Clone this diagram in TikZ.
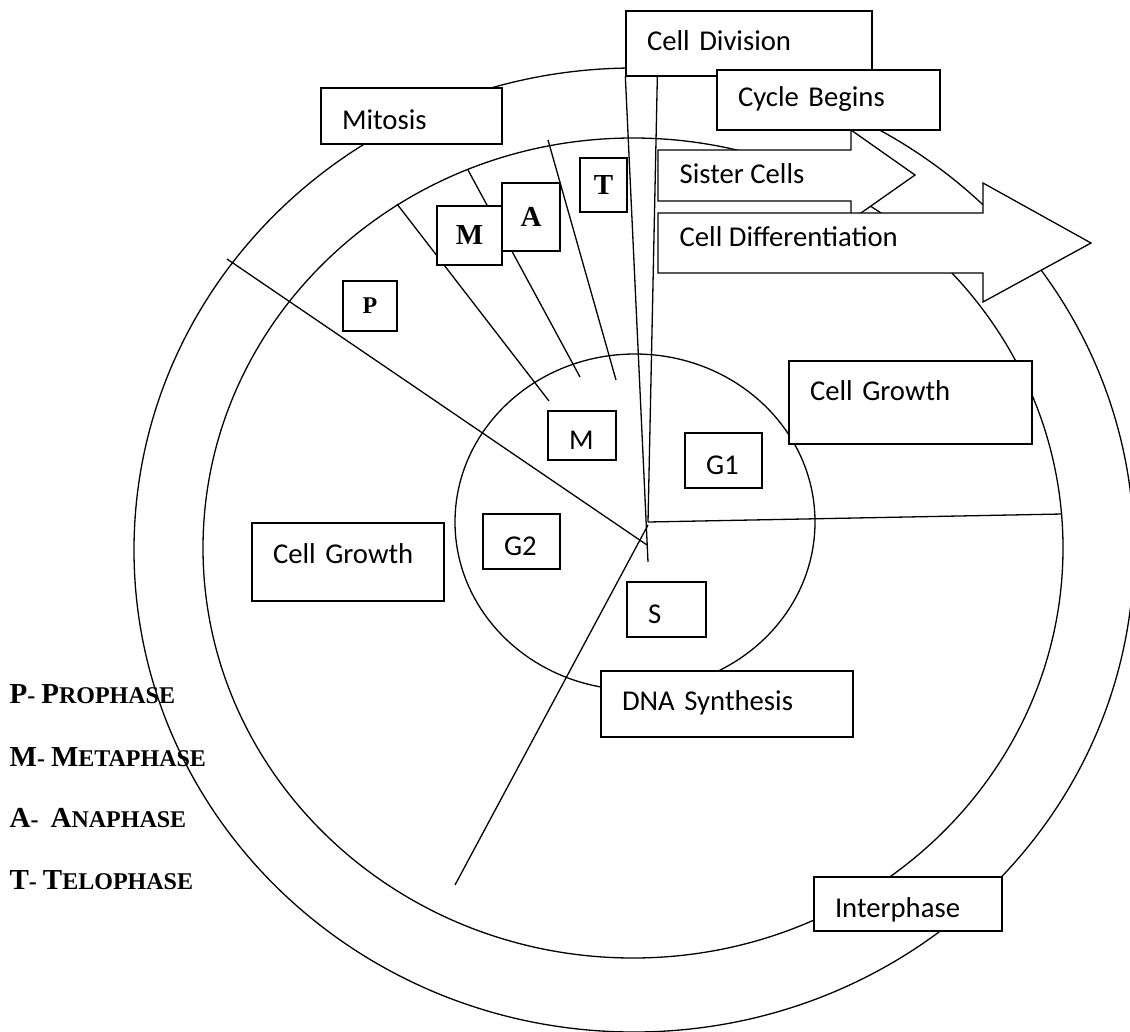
\documentclass[tikz,border=0pt]{standalone}
\usepackage{fontspec}
\setmainfont{Carlito}
\newfontfamily\algfont{Liberation Serif}
\usetikzlibrary{positioning}
\newcommand{\legcap}[1]{{\fontsize{29}{32}\selectfont #1}}
\tikzset{
  box/.style={draw, fill=white, line width=1.3pt, inner xsep=21pt, inner ysep=0pt,
    align=left, text height=19pt, text depth=6pt, font=\fontsize{28.7}{34}\selectfont},
  lowtext/.style={text height=27pt, text depth=0pt},
  phasebox/.style={draw, fill=white, line width=1.3pt, inner sep=0pt,
    font=\algfont\bfseries\fontsize{29}{32}\selectfont},
  legend/.style={anchor=west, inner sep=0pt, font=\algfont\bfseries\fontsize{24}{28}\selectfont},
  arrowtext/.style={anchor=west, inner sep=0pt, text height=19pt, text depth=6pt,
    font=\fontsize{28.7}{34}\selectfont},
  blockarrow/.style={draw, fill=white, line width=1.3pt}
}

\begin{document}
\begin{tikzpicture}[x=1pt, y=-1pt, line width=1.3pt]
  \useasboundingbox (0,0) rectangle (1130,1031);

  % the three rings
  \draw (634,550) ellipse [x radius=500, y radius=482];
  \draw (633,548) ellipse [x radius=430, y radius=410];
  \draw (635,522) ellipse [x radius=180, y radius=168];

  % points of the sectors
  \coordinate (hub) at (648,522);
  \coordinate (spindle) at (648,562);
  \coordinate (g1end) at (1062,514);
  \coordinate (proin) at (647,545);
  \coordinate (proout) at (227,259);
  \coordinate (sin) at (648,525);
  \coordinate (sout) at (455,885);
  \coordinate (pmout) at (397,204);
  \coordinate (pmin) at (549,401);
  \coordinate (maout) at (468,170);
  \coordinate (main) at (580,377);
  \coordinate (atout) at (548,140);
  \coordinate (atin) at (616,380);

  % boxes on the rings
  \node[box, minimum width=246pt, minimum height=65pt, text width=204pt] (celldiv) at (749,43.5) {Cell Division};
  \node[box, minimum width=223pt, minimum height=60pt, text width=181pt] (cycbeg) at (828.5,100) {Cycle Begins};

  \draw (celldiv.south west) -- (spindle);
  \draw ([xshift=32pt]celldiv.south west) -- (hub);
  \draw (hub) -- (g1end);
  \draw (proin) -- (proout);
  \draw (sin) -- (sout);
  \draw (pmout) -- (pmin);
  \draw (maout) -- (main);
  \draw (atout) -- (atin);

  \node[box, lowtext, minimum width=181pt, minimum height=56pt, text width=139pt] (mitosis) at (411.5,116) {Mitosis};
  \node[box, minimum width=192pt, minimum height=78pt, text width=150pt, text depth=16.5pt] (growthl) at (348,562) {Cell Growth};
  \node[box, minimum width=243pt, minimum height=83pt, text width=201pt, text depth=22.5pt] (growthr) at (910.5,402.5) {Cell Growth};
  \node[box, minimum width=252pt, minimum height=66pt, text width=210pt] (dna) at (727,704) {DNA Synthesis};
  \node[box, lowtext, minimum width=188pt, minimum height=54pt, text width=146pt] (interph) at (908,904) {Interphase};

  % phases of the cycle
  \node[box, lowtext, minimum width=77pt, minimum height=55pt, text width=35pt] (gone) at (723.5,460.5) {G1};
  \node[box, lowtext, minimum width=77pt, minimum height=55pt, text width=35pt] (gtwo) at (521.5,541.5) {G2};
  \node[box, lowtext, minimum width=68pt, minimum height=49pt, text width=26pt] (mcell) at (582,435.5) {M};
  \node[box, lowtext, minimum width=79pt, minimum height=55pt, text width=37pt] (scell) at (666.5,609.5) {S};

  % phases of mitosis
  \node[phasebox, minimum width=47pt, minimum height=54pt] (tbox) at (603.5,185) {T};
  \node[phasebox, minimum width=58pt, minimum height=68pt] (abox) at (531,217) {A};
  \node[phasebox, minimum width=65pt, minimum height=59pt] (mbox) at (469.5,235.5) {M};
  \node[phasebox, minimum width=54pt, minimum height=50pt, font=\algfont\bfseries\fontsize{24}{28}\selectfont] (pbox) at (370,306) {P};

  % block arrows
  \draw[blockarrow] (658,150) -- (851,150) -- (851,130) -- (915,175) -- (851,220)
    -- (851,201) -- (658,201) -- cycle;
  \node[arrowtext] (sister) at (679,177) {Sister Cells};
  \draw[blockarrow] (658,213) -- (983,213) -- (983,183) -- (1091,243) -- (983,302)
    -- (983,273) -- (658,273) -- cycle;
  \node[arrowtext] (differ) at (679,240) {Cell Differentiation};

  % key
  \node[legend] (keyp) at (9,694) {\legcap{P}- \legcap{P}ROPHASE};
  \node[legend] (keym) at (9,757) {\legcap{M}- \legcap{M}ETAPHASE};
  \node[legend] (keya) at (9,818) {\legcap{A}-\ \ \legcap{A}NAPHASE};
  \node[legend] (keyt) at (9,880) {\legcap{T}- \legcap{T}ELOPHASE};
\end{tikzpicture}
\end{document}
